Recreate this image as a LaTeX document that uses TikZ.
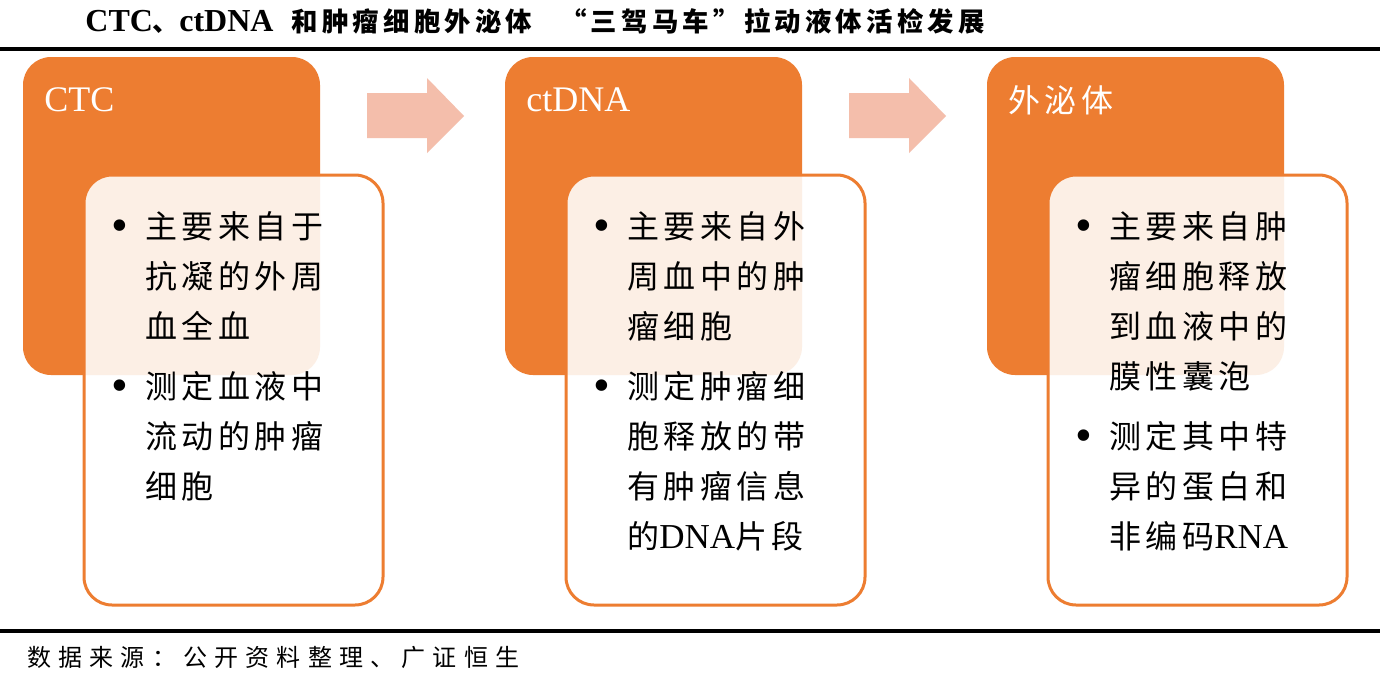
\documentclass[tikz,border=0pt]{standalone}
\usepackage{fontspec}
\setmainfont{Liberation Serif}
\newfontfamily\cjk[LetterSpace=14]{Noto Sans CJK SC}
\newfontfamily\cjktitle[LetterSpace=16]{Noto Sans CJK SC}
\newfontfamily\cjkwide[LetterSpace=30]{Noto Sans CJK SC}
\newcommand{\lat}[1]{{\rmfamily\fontsize{17.5}{25}\selectfont #1}}
\definecolor{orangebox}{HTML}{ED7D31}
\definecolor{arrowpink}{HTML}{F4BEAB}

\begin{document}
\begin{tikzpicture}[x=0.5pt,y=-0.5pt,
  headbox/.style={fill=orangebox, rounded corners=14pt, inner sep=0pt,
    minimum width=148.5pt, minimum height=159pt},
  bodybox/.style={draw=orangebox, line width=1.5pt, fill=white, fill opacity=0.88,
    rounded corners=14pt, inner sep=0pt, minimum width=149.5pt, minimum height=215pt},
  headlbl/.style={anchor=west, inner sep=0pt, text=white,
    font=\fontsize{18}{22}\selectfont},
  itemtext/.style={anchor=north west, inner sep=0pt, align=left,
    font=\cjk\fontsize{16}{25}\selectfont},
  bulletmark/.style={inner sep=0pt, xshift=-12.5pt, yshift=-10pt,
    font=\fontsize{24}{25}\selectfont}]

  \fill[white] (0,0) rectangle (1380,680);
  \useasboundingbox (0,0) rectangle (1380,680);

  % title and rules
  \node[anchor=west, inner sep=0pt, font=\fontsize{16}{20}\selectfont\bfseries] (title) at (85,21)
    {CTC{\cjktitle\fontsize{13.2}{16}\selectfont 、}ctDNA\hspace{9pt}{\cjktitle\fontsize{13.2}{16}\selectfont
     和肿瘤细胞外泌体\hspace{14pt}“三驾马车”拉动液体活检发展}};
  \draw[line width=2pt] (0,49) -- (1380,49);
  \draw[line width=2pt] (0,630.5) -- (1380,630.5);
  \node[anchor=west, inner sep=0pt, font=\cjkwide\fontsize{12}{16}\selectfont] (source) at (27,657)
    {数据来源：公开资料整理、广证恒生};

  % three columns
  \foreach \i/\lbl in {0/CTC, 1/ctDNA, 2/{\cjk\fontsize{16}{22}\selectfont 外泌体}}{
    \node[headbox] (head\i) at (171.5+482*\i,216) {};
    \node[headlbl] (lbl\i) at (44+482*\i,100) {\lbl};
    \node[bodybox] (body\i) at (233.5+482*\i,390) {};
  }

  % arrows between columns
  \foreach \i in {0,1}
    \fill[arrowpink] (367+482*\i,93) -- (427+482*\i,93) -- (427+482*\i,78)
      -- (464+482*\i,116) -- (427+482*\i,153) -- (427+482*\i,138)
      -- (367+482*\i,138) -- cycle;

  % CTC
  \node[itemtext] (ctcA) at (145,211) {主要来自于\\抗凝的外周\\血全血};
  \node[bulletmark] at (ctcA.north west) {•};
  \node[itemtext] (ctcB) at (145,371) {测定血液中\\流动的肿瘤\\细胞};
  \node[bulletmark] at (ctcB.north west) {•};

  % ctDNA
  \node[itemtext] (dnaA) at (627,211) {主要来自外\\周血中的肿\\瘤细胞};
  \node[bulletmark] at (dnaA.north west) {•};
  \node[itemtext] (dnaB) at (627,371) {测定肿瘤细\\胞释放的带\\有肿瘤信息\\的\lat{DNA}片段};
  \node[bulletmark] at (dnaB.north west) {•};

  % exosome
  \node[itemtext] (exoA) at (1109,211) {主要来自肿\\瘤细胞释放\\到血液中的\\膜性囊泡};
  \node[bulletmark] at (exoA.north west) {•};
  \node[itemtext] (exoB) at (1109,421) {测定其中特\\异的蛋白和\\非编码\lat{RNA}};
  \node[bulletmark] at (exoB.north west) {•};

\end{tikzpicture}
\end{document}
